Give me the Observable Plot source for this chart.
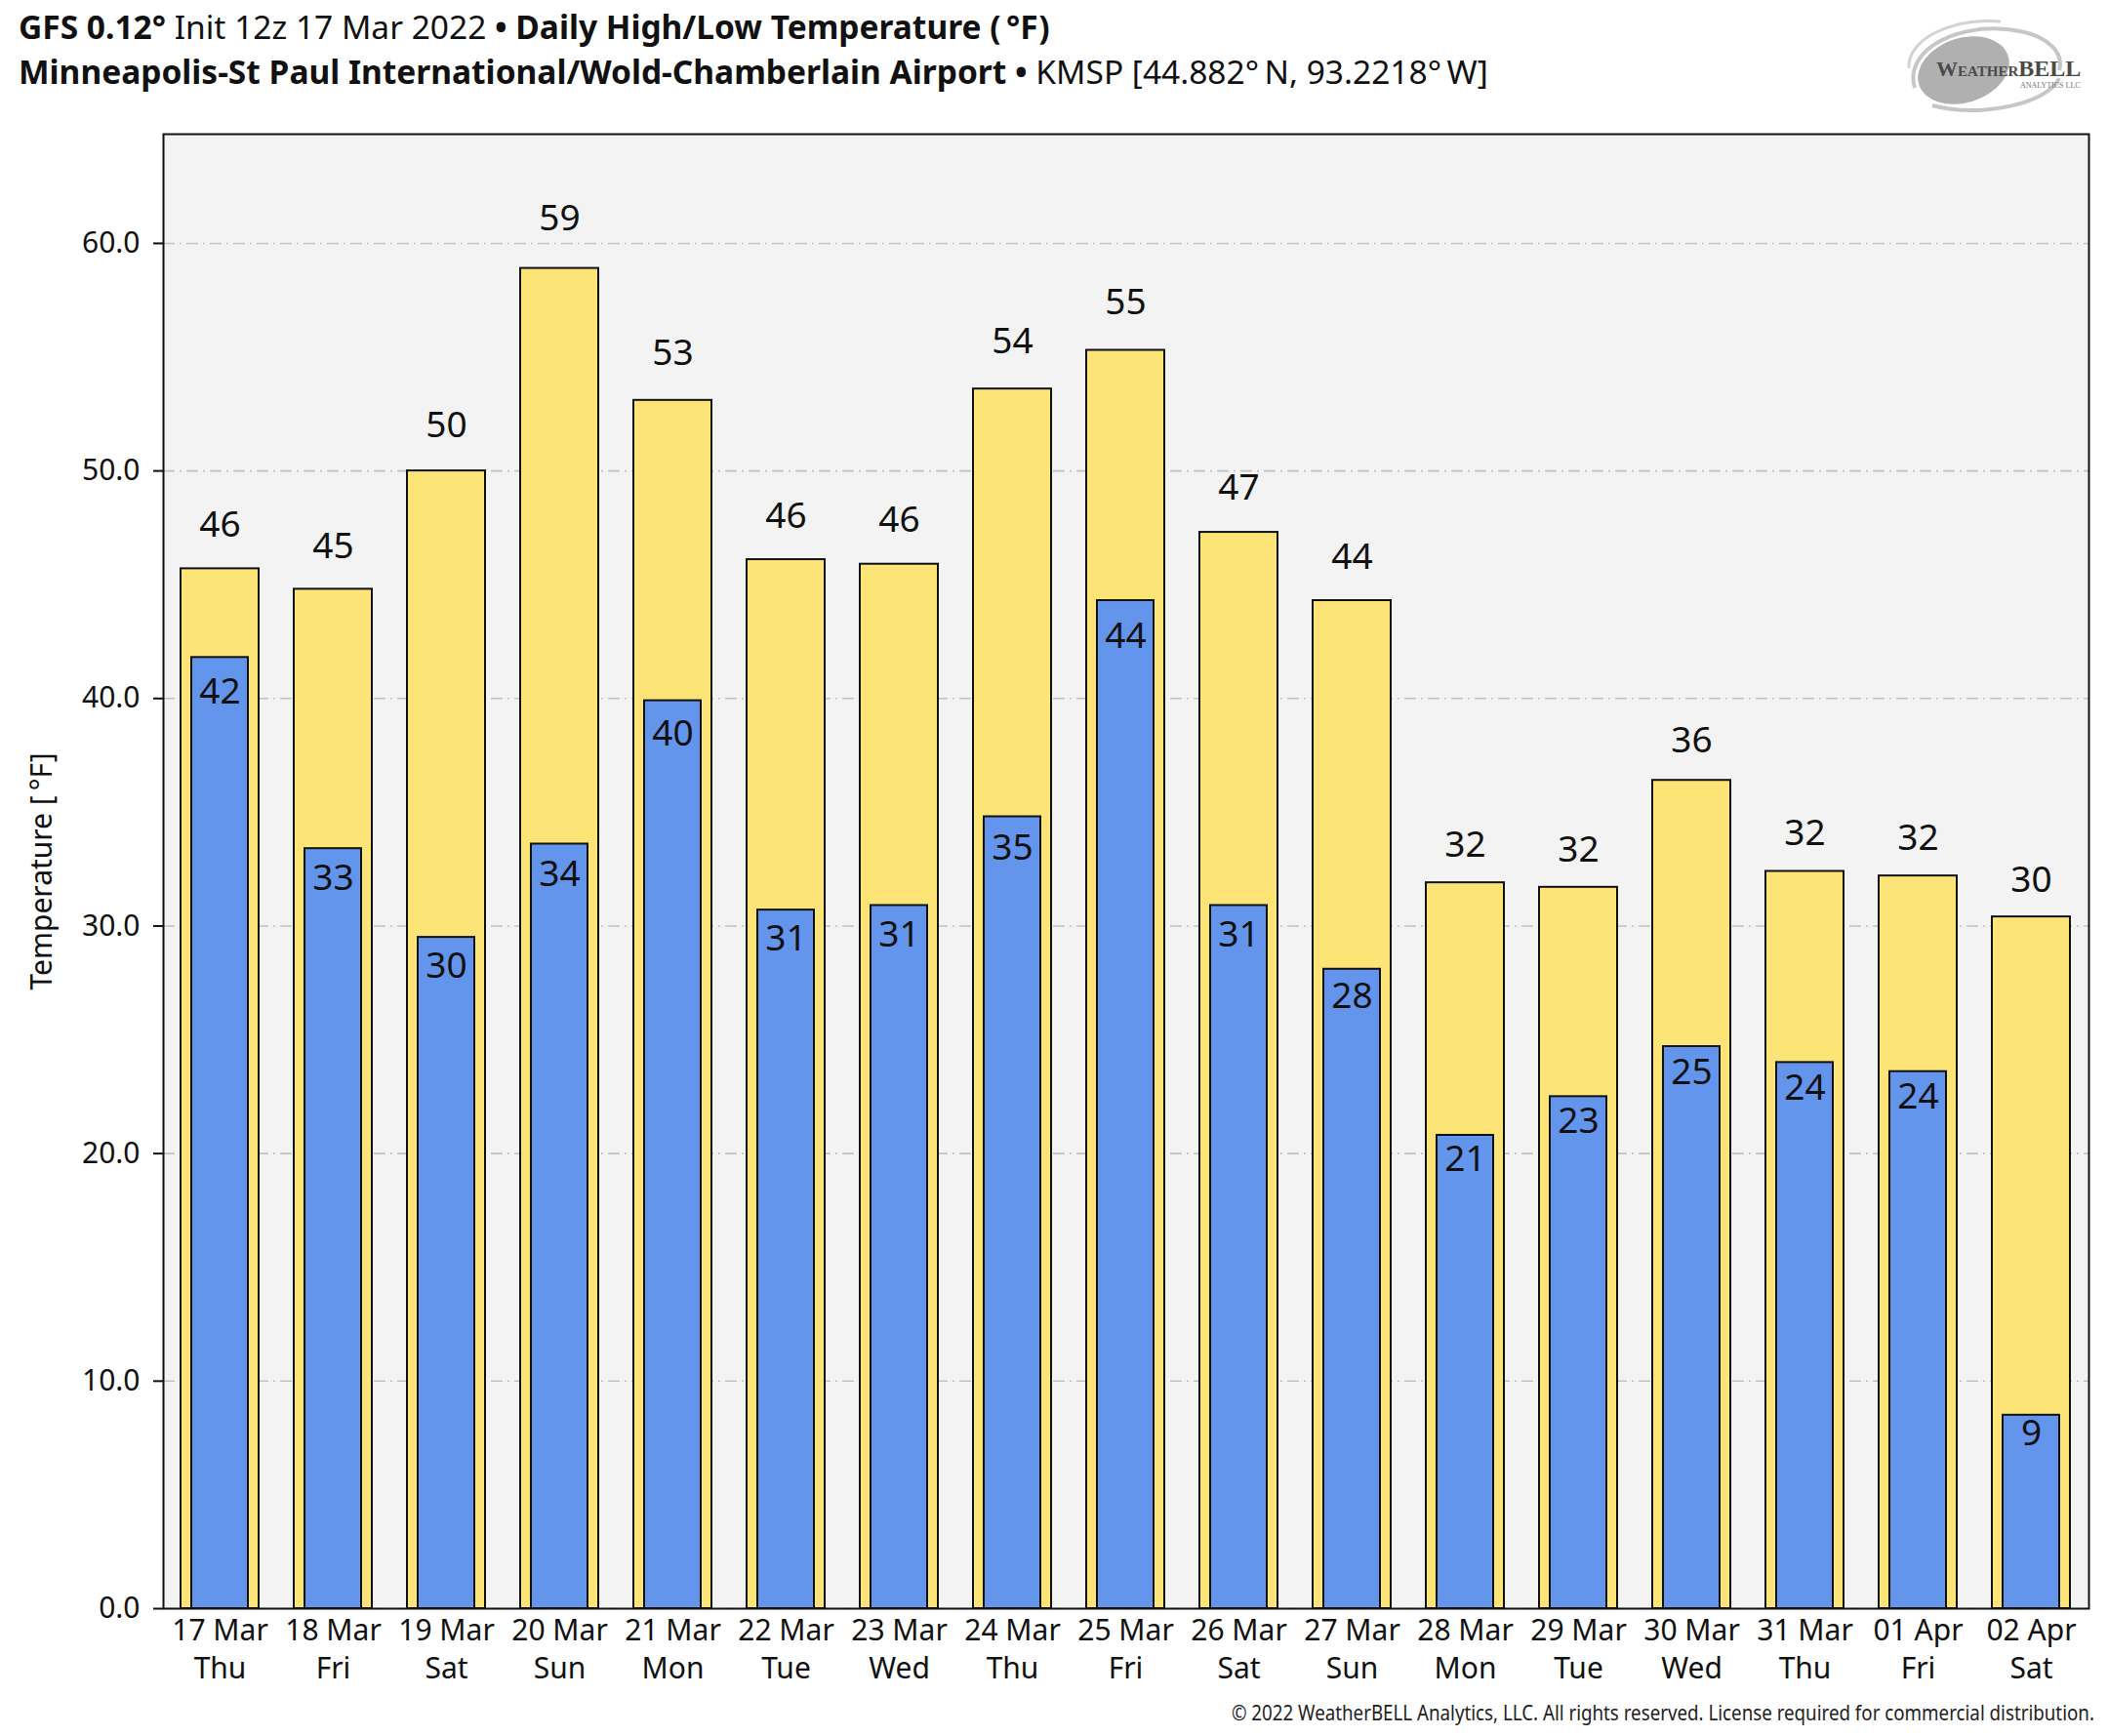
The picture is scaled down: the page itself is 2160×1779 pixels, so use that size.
<!DOCTYPE html>
<html>
<head>
<meta charset="utf-8">
<script src="https://cdn.jsdelivr.net/npm/d3@7"></script>
<script src="https://cdn.jsdelivr.net/npm/@observablehq/plot@0.6"></script>
<style>
  html, body { margin: 0; padding: 0; background: #ffffff; }
  body { width: 2160px; height: 1779px; position: relative; overflow: hidden; font-family: "Noto Sans", sans-serif; color: #111; }
  .title { position: absolute; left: 19px; font-size: 33.5px; white-space: nowrap; line-height: 1; }
  #t1 { top: 11px; }
  #t2 { top: 57px; }
  .b { font-weight: 700; }
  #chart { position: absolute; left: 0; top: 0; }
  #cap { position: absolute; right: 14px; top: 1743px; font-size: 22px; white-space: nowrap; line-height: 1; transform-origin: right center; color: #222; }
  #logo { position: absolute; left: 1950px; top: 10px; }
</style>
</head>
<body>
<div class="title" id="t1"><span class="b">GFS 0.12°</span> Init 12z 17 Mar 2022 <span class="b">• Daily High/Low Temperature (&#8201;°F)</span></div>
<div class="title" id="t2"><span class="b">Minneapolis-St Paul International/Wold-Chamberlain Airport •</span> KMSP [44.882°&#8201;N, 93.2218°&#8201;W]</div>
<div id="chart"></div>
<div id="cap">© 2022 WeatherBELL Analytics, LLC. All rights reserved. License required for commercial distribution.</div>
<svg id="logo" width="205" height="110" viewBox="0 0 205 110">
  <ellipse cx="62" cy="62" rx="48" ry="33" transform="rotate(-18 62 62)" fill="#b0b0b0"/>
  <path d="M12,80 C0,40 60,10 120,22 C150,28 165,45 160,62" fill="none" stroke="#c6c6c6" stroke-width="4"/>
  <path d="M30,98 C80,112 150,95 160,70" fill="none" stroke="#c6c6c6" stroke-width="4"/>
  <path d="M6,60 C4,30 50,8 100,12" fill="none" stroke="#d2d2d2" stroke-width="3"/>
  <text x="34" y="68" font-family="Liberation Serif, serif" font-weight="700" fill="#4a4a4a"><tspan font-size="22">W</tspan><tspan font-size="15">EATHER</tspan><tspan font-size="24">BELL</tspan></text>
  <text x="120" y="80" font-family="Liberation Serif, serif" font-size="8" fill="#777">ANALYTICS LLC</text>
</svg>
<script>
// ---- data ----
const dates = ["17 Mar","18 Mar","19 Mar","20 Mar","21 Mar","22 Mar","23 Mar","24 Mar","25 Mar","26 Mar","27 Mar","28 Mar","29 Mar","30 Mar","31 Mar","01 Apr","02 Apr"];
const days  = ["Thu","Fri","Sat","Sun","Mon","Tue","Wed","Thu","Fri","Sat","Sun","Mon","Tue","Wed","Thu","Fri","Sat"];
const highs = [45.7, 44.8, 50.0, 58.9, 53.1, 46.1, 45.9, 53.6, 55.3, 47.3, 44.3, 31.9, 31.7, 36.4, 32.4, 32.2, 30.4];
const lows  = [41.8, 33.4, 29.5, 33.6, 39.9, 30.7, 30.9, 34.8, 44.3, 30.9, 28.1, 20.8, 22.5, 24.7, 24.0, 23.6, 8.5];
const yTicks = [0, 10, 20, 30, 40, 50, 60];
const yLabel = "Temperature [\u2009°F]";

const data = dates.map((d, i) => ({date: d, day: days[i], high: highs[i], low: lows[i]}));

const yellow = "#fde476";
const blue = "#6495ed";
const ink = "#111111";

const chart = Plot.plot({
  width: 2160,
  height: 1779,
  marginTop: 137,
  marginLeft: 167,
  marginRight: 20,
  marginBottom: 131,
  style: {fontFamily: "Noto Sans, sans-serif", fontSize: "30px", background: "transparent", color: ink},
  x: {type: "band", domain: dates, paddingInner: 0.31, paddingOuter: 0.155, label: null},
  y: {domain: [0, 64.8], label: null},
  marks: [
    Plot.frame({fill: "#f3f3f3"}),
    Plot.ruleY(yTicks, {stroke: "#c2c2c2", strokeWidth: 1.6, strokeDasharray: "12,5,2,5"}),
    Plot.barY(data, {x: "date", y: "high", fill: yellow, stroke: ink, strokeWidth: 2}),
    Plot.barY(data, {x: "date", y: "low", fill: blue, stroke: ink, strokeWidth: 2, insetLeft: 11, insetRight: 11}),
    Plot.text(data, {x: "date", y: d => d.high * 1.0193 + 1.03, text: d => String(Math.round(d.high)), fontSize: 37, fill: ink, lineAnchor: "middle"}),
    Plot.text(data, {x: "date", y: d => d.low * 0.979 - 0.626, text: d => String(Math.round(d.low)), fontSize: 37, fill: ink, lineAnchor: "middle"}),
    Plot.axisY({ticks: yTicks, tickFormat: d3.format(".1f"), tickSize: 10, tickPadding: 14, label: null, fontSize: 30, stroke: ink, strokeWidth: 2}),
    Plot.axisX({tickSize: 0, tickPadding: 5, tickFormat: d => d + "\n" + days[dates.indexOf(d)], label: null, fontSize: 30, lineHeight: 1.3}),
    Plot.text([yLabel], {frameAnchor: "left", textAnchor: "middle", dx: -124, rotate: -90, fontSize: 30, fill: ink}),
    Plot.frame({stroke: ink, strokeWidth: 2})
  ]
});
document.getElementById("chart").appendChild(chart);

// squeeze the copyright caption to the condensed width of the original
const cap = document.getElementById("cap");
const w = cap.getBoundingClientRect().width;
cap.style.transform = `scaleX(${884 / w})`;
</script>
</body>
</html>
